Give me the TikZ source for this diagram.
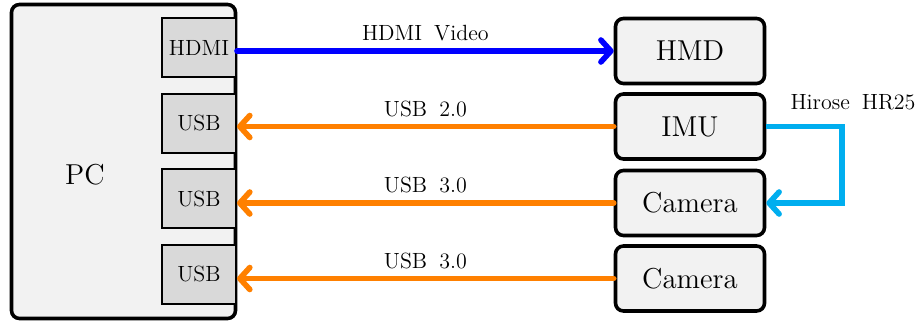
\documentclass[tikz,border=0pt]{standalone}
\usetikzlibrary{arrows.meta}
\definecolor{linkblue}{RGB}{0,0,255}
\definecolor{linkorange}{RGB}{255,128,0}
\definecolor{linkcyan}{RGB}{0,174,239}
\newcommand\wsp{\hspace{0.55em}}
\begin{document}
\begin{tikzpicture}[x=0.5pt,y=-0.5pt,
  bigtext/.style={font=\fontsize{14.4}{17}\selectfont},
  smalltext/.style={font=\fontsize{11}{13}\selectfont},
  hostbox/.style={draw=black,line width=1.8pt,rounded corners=4pt,fill=black!5,
    minimum width=112pt,minimum height=157pt,inner sep=0pt},
  portbox/.style={draw=black,line width=1pt,fill=black!15,
    minimum width=37pt,minimum height=29.5pt,inner sep=0pt,smalltext},
  devbox/.style={draw=black,line width=1.8pt,rounded corners=4pt,fill=black!5,
    minimum width=74.5pt,minimum height=32.5pt,inner sep=0pt,bigtext},
  link/.style={line width=2.8pt,line cap=round,
    arrows={-Straight Barb[length=5pt,width=11pt,round]}},
  linklabel/.style={smalltext,above,inner sep=3.5pt}]
  \useasboundingbox (0,0) rectangle (919,322);

  % host computer and its ports
  \node[hostbox] (pc) at (123.5,161.5) {};
  \node[bigtext] (pclabel) at (85,175) {PC};
  \node[portbox] (hdmi) at (199,47.5) {HDMI};
  \node[portbox] (usba) at (199,123) {USB};
  \node[portbox] (usbb) at (199,198.5) {USB};
  \node[portbox] (usbc) at (199,274) {USB};

  % devices
  \node[devbox] (hmd)  at (690,51)    {HMD};
  \node[devbox] (imu)  at (690,126.5) {IMU};
  \node[devbox] (cama) at (690,203)   {Camera};
  \node[devbox] (camb) at (690,278.5) {Camera};

  % cables
  \draw[link,linkblue] (hdmi.east |- hmd.west) -- node[linklabel,text=black] {HDMI\wsp Video} (hmd.west);
  \draw[link,linkorange] (imu.west) -- node[linklabel,text=black] {USB\wsp 2.0} (usba.east |- imu.west);
  \draw[link,linkorange] (cama.west) -- node[linklabel,text=black] {USB\wsp 3.0} (usbb.east |- cama.west);
  \draw[link,linkorange] (camb.west) -- node[linklabel,text=black] {USB\wsp 3.0} (usbc.east |- camb.west);

  \coordinate (hrbend) at (842,126.5);
  \draw[link,linkcyan,line cap=butt] (imu.east) -- (hrbend) |- (cama.east);
  \node[smalltext,anchor=south] (hrlabel) at (853,117) {Hirose\wsp HR25};
\end{tikzpicture}
\end{document}
